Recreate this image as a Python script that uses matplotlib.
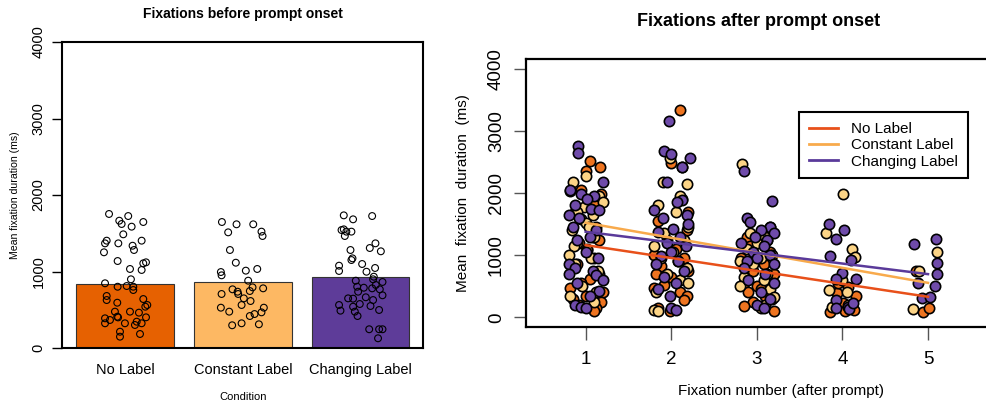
import matplotlib
matplotlib.use("Agg")
import matplotlib.pyplot as plt
from matplotlib.lines import Line2D

plt.rcParams['font.family'] = ['Liberation Sans', 'DejaVu Sans']

W, H = 987, 403

conditions = ['No Label', 'Constant Label', 'Changing Label']
bar_colors = ['#E66101', '#FDB863', '#5E3C99']
point_colors = ['#EE7420', '#FCD486', '#6F4BAA']
line_colors = ['#E8501A', '#F8AA4C', '#5A3A9A']

# ---- left panel: mean fixation duration before prompt onset
bar_means = [837, 867, 928]

nolabel_dx = [-0.137, -0.05, 0.026, -0.03, 0.154, 0.055, -0.016, -0.157, -0.171, -0.058,
              0.063, 0.14, 0.075, -0.18, -0.064, 0.154, 0.177, 0.14, 0.041, 0.049,
              -0.171, -0.064, 0.013, 0.069, 0.069, -0.157, -0.157, -0.067, 0.154, 0.188,
              0.171, -0.087, 0.041, 0.117, -0.171, -0.129, -0.171, -0.067, -0.06, -0.002,
              0.083, 0.098, 0.14, 0.177, -0.044, -0.044, 0.126]
nolabel_pts = [1752, 1664, 1725, 1621, 1647, 1586, 1486, 1403, 1368, 1368,
               1337, 1403, 1281, 1251, 1137, 1107, 1120, 1020, 1033, 898,
               846, 801, 810, 801, 758, 680, 627, 592, 640, 562,
               540, 475, 475, 462, 388, 366, 323, 409, 400, 323,
               301, 344, 323, 401, 213, 148, 183]

constant_dx = [-0.178, -0.054, 0.088, -0.125, 0.158, 0.167, -0.11, -0.06, 0.025, 0.122,
               -0.187, -0.181, 0.045, -0.088, -0.045, 0.082, 0.172, 0.059, -0.04, -0.181,
               0.008, 0.065, -0.011, -0.187, -0.116, 0.178, 0.099, 0.059, 0.158, -0.091,
               -0.011, 0.136]
constant_pts = [1647, 1617, 1617, 1512, 1521, 1464, 1281, 1115, 1011, 1033,
                993, 950, 880, 767, 736, 793, 780, 745, 706, 706,
                649, 614, 562, 527, 475, 527, 444, 418, 466, 297,
                323, 310]

changing_dx = [-0.143, -0.064, 0.098, -0.162, -0.143, -0.121, -0.078, -0.134, 0.126, 0.078,
               0.172, -0.086, -0.069, -0.078, -0.183, -0.183, 0.013, 0.05, 0.123, 0.112,
               -0.041, 0.106, 0.186, -0.029, 0.027, 0.098, 0.129, -0.021, 0.163, -0.106,
               -0.064, 0.044, 0.106, 0.186, -0.183, -0.171, -0.064, -0.007, 0.084, 0.157,
               -0.049, -0.026, 0.073, 0.157, 0.186, 0.148]
changing_pts = [1734, 1682, 1725, 1542, 1551, 1521, 1521, 1464, 1368, 1307,
                1264, 1281, 1172, 1150, 1076, 1007, 1098, 997, 1046, 932,
                880, 898, 863, 801, 788, 780, 824, 736, 767, 649,
                645, 663, 627, 689, 562, 488, 540, 575, 549, 497,
                475, 418, 245, 245, 245, 127]

# ---- right panel: per fixation number (1..5), jitter offsets and durations
fixations = [1, 2, 3, 4, 5]

nl_dx = [
    [0.05, 0.17, 0.0, -0.05, 0.18, 0.1, -0.12, 0.12, 0.08, 0.15, -0.08, 0.02, 0.1,
     -0.1, 0.15, 0.05, -0.05, -0.18, 0.2, 0.0, -0.15, 0.1, 0.18, -0.08, 0.12, 0.1],
    [0.1, 0.0, 0.12, 0.2, -0.15, 0.18, -0.05, 0.05, -0.2, 0.15, 0.08, -0.12, 0.2,
     -0.18, 0.0, -0.08, -0.2, 0.1, 0.18, 0.15, -0.16, -0.02],
    [0.05, -0.12, 0.12, 0.0, -0.08, 0.15, -0.18, 0.08, -0.05, 0.2, 0.12, -0.15, 0.0,
     0.05, -0.1, 0.1, 0.18, -0.05, -0.15, 0.2],
    [-0.06, 0.07, 0.16, 0.01, -0.14, 0.03, 0.13, -0.05],
    [-0.14, -0.06, 0.01],
]
nl_ms = [
    [2520, 2420, 2360, 2050, 1980, 1850, 1700, 1450, 1300, 1250, 1200, 1100, 950,
     850, 700, 620, 550, 480, 400, 350, 300, 280, 250, 200, 150, 100],
    [3340, 2480, 1900, 1700, 1550, 1400, 1250, 1100, 1000, 950, 900, 820, 750,
     700, 650, 520, 480, 400, 350, 280, 150, 100],
    [1350, 1300, 1250, 1200, 1150, 1050, 950, 850, 750, 700, 600, 550, 500,
     450, 400, 350, 300, 250, 180, 100],
    [385, 493, 343, 225, 91, 107, 118, 546],
    [750, 91, 145],
]

cl_dx = [
    [0.0, -0.15, -0.18, 0.16, 0.2, -0.02, -0.1, 0.08, -0.06, 0.0, 0.04, -0.16, 0.1,
     -0.1, -0.14, 0.02, -0.2, 0.06, -0.12, 0.14, -0.04, 0.12, -0.18, 0.1],
    [-0.02, 0.12, -0.1, 0.18, 0.1, -0.15, 0.05, 0.2, -0.08, 0.15, -0.2, 0.02, -0.12,
     0.18, -0.05, 0.1, 0.2, -0.18, -0.2, -0.15],
    [-0.17, 0.15, -0.08, 0.1, 0.0, -0.12, 0.18, 0.05, -0.2, -0.05, 0.12, -0.15, 0.08,
     -0.2, 0.15, 0.2, 0.1, 0.05],
    [-0.19, 0.01, 0.11, 0.15, 0.0, -0.16, 0.05, 0.07, -0.12],
    [-0.1, -0.17, 0.1],
]
cl_ms = [
    [2270, 2180, 2030, 1950, 1850, 1780, 1700, 1650, 1580, 1520, 1450, 1400, 1300,
     1200, 1150, 1080, 1000, 950, 850, 750, 500, 400, 350, 250],
    [2560, 2420, 2180, 2150, 1950, 1800, 1700, 1450, 1350, 1250, 1150, 1050, 950,
     800, 700, 600, 550, 400, 120, 100],
    [2460, 1450, 1350, 1300, 1200, 1100, 1000, 950, 900, 850, 700, 650, 600,
     500, 450, 330, 200, 150],
    [1360, 1981, 1092, 964, 600, 439, 412, 198, 160],
    [740, 128, 1050],
]

ch_dx = [
    [-0.09, -0.09, 0.2, -0.18, -0.05, 0.1, 0.02, -0.12, 0.06, 0.15, -0.2, -0.08, -0.15,
     0.12, 0.05, -0.1, 0.0, 0.14, -0.2, -0.12, 0.08, -0.2, 0.12, 0.2, -0.1, 0.15,
     0.05, -0.12, -0.05, 0.0],
    [-0.03, -0.08, 0.0, 0.22, 0.12, -0.05, 0.13, 0.07, -0.2, 0.18, -0.1, 0.2, 0.02,
     -0.15, 0.1, -0.05, 0.17, 0.0, -0.12, 0.08, -0.18, 0.15, -0.08, 0.05, -0.15,
     -0.02, 0.0, 0.05],
    [-0.15, 0.18, -0.12, -0.08, 0.15, 0.05, 0.2, -0.02, 0.12, -0.18, 0.08, -0.05, 0.15,
     0.0, -0.12, 0.2, -0.15, 0.1, -0.1, 0.2, 0.05, 0.15, 0.0, 0.08],
    [-0.155, -0.08, 0.02, -0.15, 0.1, 0.0, -0.08, 0.16, -0.07, 0.07, -0.08, 0.08, 0.12],
    [-0.16, -0.12, -0.07, 0.02, 0.08, 0.1, 0.11, 0.09],
]
ch_ms = [
    [2750, 2640, 2180, 2050, 1980, 1950, 1900, 1800, 1750, 1720, 1650, 1600, 1450,
     1400, 1300, 1250, 1050, 950, 850, 800, 750, 700, 680, 600, 550, 420,
     350, 200, 170, 150],
    [3160, 2680, 2620, 2560, 2420, 2180, 1880, 1850, 1720, 1650, 1600, 1500, 1420,
     1380, 1300, 1200, 1150, 1050, 980, 900, 850, 750, 650, 550, 450,
     350, 150, 120],
    [2350, 1870, 1600, 1540, 1450, 1400, 1350, 1300, 1250, 1200, 1150, 1050, 1000,
     950, 900, 850, 800, 700, 600, 550, 400, 300, 200, 150],
    [1494, 1253, 1403, 985, 921, 707, 610, 621, 278, 171, 145, 139, 225],
    [1173, 560, 305, 321, 503, 696, 878, 1264],
]

# fitted line values at fixation 1 and fixation 5
fit_x = [1, 5]
nl_fit = [1162, 331]
cl_fit = [1521, 555]
ch_fit = [1376, 695]


def fx(px):
    return px / W


def fy(py):
    return 1 - py / H


fig = plt.figure(figsize=(W / 100, H / 100), dpi=100)

# ---------- left panel
ax1 = fig.add_axes([fx(62.3), fy(348), (423 - 62.3) / W, (348 - 42) / H])
xpos = list(range(len(conditions)))
ax1.bar(xpos, bar_means, width=0.83, color=bar_colors, edgecolor='#333333',
        linewidth=0.8, zorder=2)
for i, (dx, pts) in enumerate([(nolabel_dx, nolabel_pts),
                               (constant_dx, constant_pts),
                               (changing_dx, changing_pts)]):
    ax1.scatter([i + d for d in dx], pts, s=24, facecolors='none',
                edgecolors='black', linewidths=0.8, zorder=3)
ax1.set_xlim(-0.534, 2.53)
ax1.set_ylim(0, 4000)
ax1.set_xticks(xpos)
ax1.set_xticklabels(conditions)
ax1.set_yticks([0, 1000, 2000, 3000, 4000])
ax1.tick_params(axis='x', length=0, labelsize=10.5, pad=11)
ax1.tick_params(axis='y', direction='out', length=7, width=1, labelsize=10.5, pad=5)
plt.setp(ax1.get_yticklabels(), rotation=90, va='center')
for sp in ax1.spines.values():
    sp.set_linewidth(1.5)

fig.text(fx(242.7), fy(14), 'Fixations before prompt onset', ha='center', va='center',
         fontsize=10, fontweight='bold')
fig.text(fx(15), fy(195), 'Mean fixation duration (ms)', ha='center', va='center',
         rotation=90, fontsize=7.6)
fig.text(fx(242.7), fy(397), 'Condition', ha='center', va='center', fontsize=8)

# ---------- right panel
ax2 = fig.add_axes([fx(525.7), fy(327.3), (1035 - 525.7) / W, (327.3 - 59) / H])
for k, (dxs, mss) in enumerate([(nl_dx, nl_ms), (cl_dx, cl_ms), (ch_dx, ch_ms)]):
    xs, ys = [], []
    for f, dx, ms in zip(fixations, dxs, mss):
        xs += [f + d for d in dx]
        ys += ms
    ax2.scatter(xs, ys, s=55, color=point_colors[k], edgecolors='black',
                linewidths=1.2, zorder=2 + k * 0.1)

for k, fit in enumerate([nl_fit, cl_fit, ch_fit]):
    ax2.plot(fit_x, fit, color=line_colors[k], linewidth=1.8, zorder=5)

ax2.set_xlim(0.299, 6.25)
ax2.set_ylim(-160, 4155)
ax2.set_xticks(fixations)
ax2.set_yticks([0, 1000, 2000, 3000, 4000])
ax2.tick_params(axis='both', direction='out', length=9, width=1, color='#555555',
                labelsize=13.5, pad=8.4)
ax2.tick_params(axis='y', pad=6)
plt.setp(ax2.get_yticklabels(), rotation=90, va='center')
for sp in ax2.spines.values():
    sp.set_linewidth(1.6)

handles = [Line2D([0], [0], color=c, linewidth=2) for c in line_colors]
leg = ax2.legend(handles, conditions, loc='upper left',
                 bbox_to_anchor=(fx(799), fy(112)), bbox_transform=fig.transFigure,
                 borderaxespad=0, fancybox=False, framealpha=1, edgecolor='black',
                 fontsize=11, handlelength=1.9, handletextpad=0.85,
                 labelspacing=0.15, borderpad=0.65)
leg.get_frame().set_linewidth(1.5)
leg.set_zorder(10)

fig.text(fx(759), fy(22), 'Fixations after prompt onset', ha='center', va='center',
         fontsize=13, fontweight='bold')
fig.text(fx(462.6), fy(193), 'Mean  fixation  duration  (ms)', ha='center', va='center',
         rotation=90, fontsize=11)
fig.text(fx(780.6), fy(390.7), 'Fixation number (after prompt)', ha='center',
         va='center', fontsize=11)

fig.savefig('out.png', dpi=100)
